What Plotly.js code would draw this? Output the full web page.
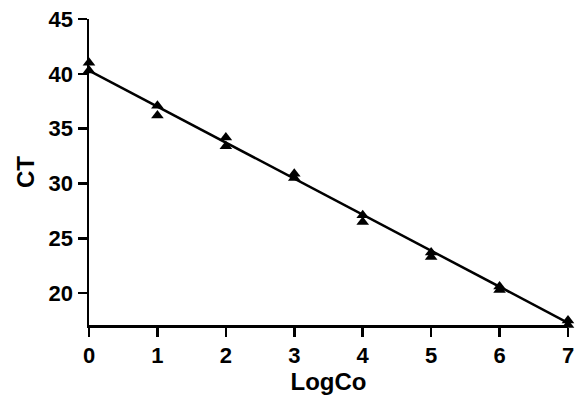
<!DOCTYPE html>
<html>
<head>
<meta charset="utf-8">
<script src="https://cdn.plot.ly/plotly-3.0.1.min.js"></script>
<style>
html,body{margin:0;padding:0;background:#fff;}
#chart{width:577px;height:399px;}
</style>
</head>
<body>
<div id="chart"></div>
<script>
// Replicate measurements (CT) at each LogCo
const logCo = [0, 0, 1, 1, 2, 2, 3, 3, 4, 4, 5, 5, 6, 6, 7, 7];
const ctValues = [41.0, 40.3, 37.1, 36.2, 34.2, 33.4, 30.9, 30.5, 27.1, 26.5, 23.7, 23.3, 20.6, 20.3, 17.5, 17.1];
// Fitted standard-curve line endpoints
const fitX = [0, 7];
const fitY = [40.3, 17.3];
const xTicks = [0, 1, 2, 3, 4, 5, 6, 7];
const yTicks = [20, 25, 30, 35, 40, 45];

const FONT = '"Liberation Sans", Arial, Helvetica, sans-serif';
const tickFont = {family: FONT, size: 22, weight: 'bold', color: '#000'};

const traces = [
  {
    x: fitX, y: fitY, mode: 'lines', type: 'scatter',
    line: {color: '#000', width: 2.5}, hoverinfo: 'skip', cliponaxis: false
  },
  {
    x: logCo, y: ctValues, mode: 'markers', type: 'scatter',
    marker: {symbol: 'triangle-up', size: 11, color: '#000'},
    cliponaxis: false
  }
];

const layout = {
  width: 577, height: 399,
  margin: {l: 89, r: 9, t: 19, b: 74},
  paper_bgcolor: '#fff', plot_bgcolor: '#fff',
  showlegend: false,
  font: {family: FONT, size: 22, weight: 'bold', color: '#000'},
  xaxis: {
    range: [0, 7], tickvals: xTicks, ticktext: xTicks.map(v => '<b>' + v + '</b>'),
    showgrid: false, zeroline: false,
    showline: true, linecolor: '#000', linewidth: 2.5,
    ticks: 'outside', ticklen: 9, tickwidth: 2.5, tickcolor: '#000',
    tickfont: tickFont,
    title: {text: '<b>LogCo</b>', font: {family: FONT, size: 24, color: '#000'}, standoff: 4},
    automargin: false
  },
  yaxis: {
    range: [17.1, 45], tickvals: yTicks, ticktext: yTicks.map(v => '<b>' + v + '</b>'),
    showgrid: false, zeroline: false,
    showline: true, linecolor: '#000', linewidth: 2.5,
    ticks: 'outside', ticklen: 9, tickwidth: 2.5, tickcolor: '#000',
    tickfont: tickFont,
    title: {text: '<b>CT</b>', font: {family: FONT, size: 24, color: '#000'}, standoff: 7},
    automargin: false
  }
};

Plotly.newPlot('chart', traces, layout, {displayModeBar: false, staticPlot: true});
</script>
</body>
</html>
